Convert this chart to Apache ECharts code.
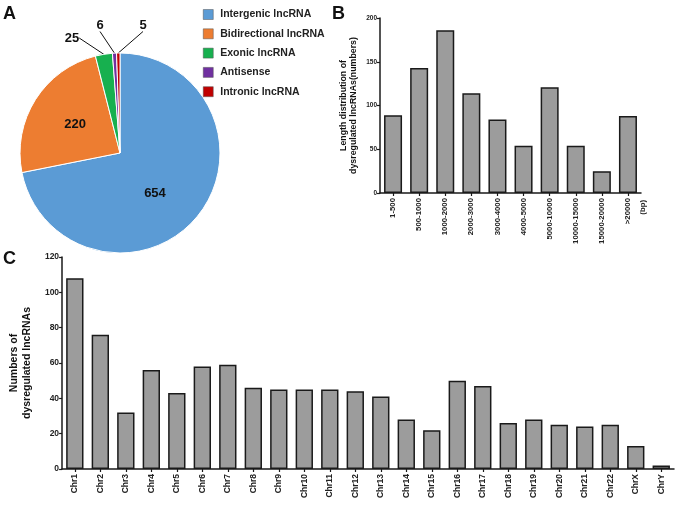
<!DOCTYPE html>
<html><head><meta charset="utf-8">
<script src="https://cdn.jsdelivr.net/npm/echarts@6/dist/echarts.min.js"></script>
<style>html,body{margin:0;padding:0;background:#fff}#c{width:677px;height:507px}</style>
</head><body><div id="c"></div>
<script>
// Panel A
const pieNames = ['Intergenic lncRNA','Bidirectional lncRNA','Exonic lncRNA','Antisense','Intronic lncRNA'];
const pieValues = [654, 220, 25, 6, 5];
const pieColors = ['#5b9bd5','#ed7d31','#17b04f','#7030a0','#c00000'];
// Panel B
const lenCats = ['1-500','500-1000','1000-2000','2000-3000','3000-4000','4000-5000','5000-10000','10000-15000','15000-20000','>20000'];
const lenValues = [89, 143, 186, 114, 84, 54, 121, 54, 25, 88];
const lenTicks = [0, 50, 100, 150, 200];
// Panel C
const chrCats = ['Chr1','Chr2','Chr3','Chr4','Chr5','Chr6','Chr7','Chr8','Chr9','Chr10','Chr11','Chr12','Chr13','Chr14','Chr15','Chr16','Chr17','Chr18','Chr19','Chr20','Chr21','Chr22','ChrX','ChrY'];
const chrValues = [108, 76, 32, 56, 43, 58, 59, 46, 45, 45, 45, 44, 41, 28, 22, 50, 47, 26, 28, 25, 24, 25, 13, 2];
const chrTicks = [0, 20, 40, 60, 80, 100, 120];

const FONT = '"Liberation Sans", Arial, sans-serif';
const axisLine = {show:true, lineStyle:{color:'#1a1a1a', width:1.5}};
const axisTick = {show:true, length:3, lineStyle:{color:'#1a1a1a', width:1.2}};
const barStyle = {color:'#9c9c9c', borderColor:'#1a1a1a', borderWidth:1.5};

// placement of the small outside pie labels (label placement only)
const smallLabelPos = {2:[72,38], 3:[100,25], 4:[143,25]};

const chart = echarts.init(document.getElementById('c'), null, {renderer:'canvas'});
const pieData = pieNames.map((n,i)=>{
  const d = {name:n, value:pieValues[i], itemStyle:{color:pieColors[i]}};
  if (i >= 2) {
    d.label = {position:'outside'};
    d.labelLine = {show:true, length:0, length2:0, lineStyle:{color:'#111', width:1}};
  }
  return d;
});

chart.setOption({
  animation:false,
  textStyle:{fontFamily:FONT},
  title:[
    {text:'A', left:3, top:5, padding:0, textStyle:{fontSize:18, fontWeight:'bold', color:'#111', fontFamily:FONT}},
    {text:'B', left:332, top:5, padding:0, textStyle:{fontSize:18, fontWeight:'bold', color:'#111', fontFamily:FONT}},
    {text:'C', left:3, top:250, padding:0, textStyle:{fontSize:18, fontWeight:'bold', color:'#111', fontFamily:FONT}}
  ],
  legend:{
    orient:'vertical', left:203, top:9, icon:'rect', itemWidth:10, itemHeight:10, itemGap:8.3,
    padding:0, data:pieNames,
    itemStyle:{borderColor:'#555', borderWidth:0.5},
    textStyle:{fontSize:10.5, fontWeight:'bold', color:'#222', fontFamily:FONT, padding:[0,0,0,2]}
  },
  grid:[
    {left:380, top:18, width:261, height:175, containLabel:false},
    {left:52, top:257, width:622, height:212, containLabel:false}
  ],
  xAxis:[
    {type:'category', gridIndex:0, data:lenCats, axisLine, axisTick:Object.assign({alignWithLabel:true}, axisTick),
     axisLabel:{rotate:90, fontSize:7.8, fontWeight:'bold', color:'#222', margin:5, fontFamily:FONT},
     name:'(bp)', nameLocation:'end', nameRotate:90, nameGap:2,
     nameTextStyle:{fontSize:7.8, fontWeight:'bold', color:'#222', align:'right', verticalAlign:'middle', padding:[0,7,0,0], fontFamily:FONT}},
    {type:'category', gridIndex:1, data:chrCats, axisLine, axisTick:Object.assign({alignWithLabel:true}, axisTick),
     axisLabel:{rotate:90, fontSize:8.5, fontWeight:'bold', color:'#222', margin:5, fontFamily:FONT}}
  ],
  yAxis:[
    {type:'value', gridIndex:0, min:lenTicks[0], max:lenTicks[lenTicks.length-1], interval:50, splitLine:{show:false},
     axisLine, axisTick,
     axisLabel:{fontSize:6.5, fontWeight:'bold', color:'#222', margin:3, fontFamily:FONT},
     name:'Length distribution of\ndysregulated lncRNAs(numbers)', nameLocation:'middle', nameGap:21,
     nameTextStyle:{fontSize:8.8, fontWeight:'bold', color:'#111', lineHeight:10, fontFamily:FONT}},
    {type:'value', gridIndex:1, min:chrTicks[0], max:chrTicks[chrTicks.length-1], interval:20, splitLine:{show:false},
     axisLine, axisTick,
     axisLabel:{fontSize:8.5, fontWeight:'bold', color:'#222', margin:3, fontFamily:FONT},
     name:'Numbers of\ndysregulated lncRNAs', nameLocation:'middle', nameGap:22,
     nameTextStyle:{fontSize:10.5, fontWeight:'bold', color:'#111', lineHeight:13, fontFamily:FONT}}
  ],
  series:[
    {type:'pie', center:[120,153], radius:100, startAngle:90, clockwise:true,
     itemStyle:{borderColor:'#fff', borderWidth:1},
     label:{show:true, position:'inside', formatter:'{c}', fontSize:13, fontWeight:'bold', color:'#111', fontFamily:FONT},
     labelLine:{show:false},
     labelLayout:function(p){
       const pos = smallLabelPos[p.dataIndex];
       if (pos) return {x:pos[0], y:pos[1], align:'center', verticalAlign:'middle'};
       if (p.dataIndex === 0) return {dx:-6, dy:7};
       return {};
     },
     data:pieData},
    {type:'bar', xAxisIndex:0, yAxisIndex:0, data:lenValues, barWidth:'69%', itemStyle:barStyle},
    {type:'bar', xAxisIndex:1, yAxisIndex:1, data:chrValues, barWidth:'68%', itemStyle:barStyle}
  ]
});
</script></body></html>
